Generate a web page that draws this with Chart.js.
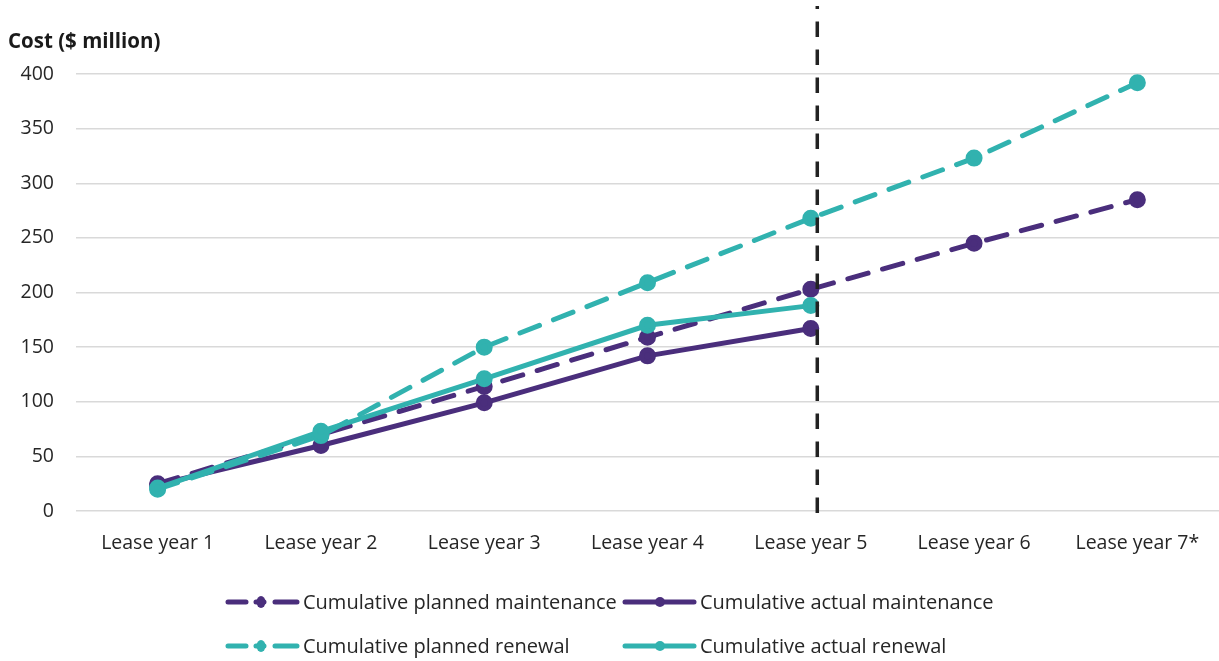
<!DOCTYPE html>
<html>
<head>
<meta charset="utf-8">
<script src="https://cdn.jsdelivr.net/npm/chart.js@4/dist/chart.umd.min.js"></script>
<style>
  html, body { margin: 0; padding: 0; background: #ffffff; }
  #wrap { position: relative; width: 1219px; height: 661px; }
</style>
</head>
<body>
<div id="wrap"><canvas id="chart" width="1219" height="661"></canvas></div>
<script>
// Categories and tick labels
const leaseYears = ['Lease year 1', 'Lease year 2', 'Lease year 3', 'Lease year 4', 'Lease year 5', 'Lease year 6', 'Lease year 7*'];
const yTicks = [0, 50, 100, 150, 200, 250, 300, 350, 400];

// Cumulative costs, $ million
const plannedMaintenance = [25, 70, 114, 159, 203, 245, 285];
const actualMaintenance  = [24, 60, 99, 142, 167, null, null];
const plannedRenewal     = [20, 69, 150, 209, 268, 323, 392];
const actualRenewal      = [21, 73, 121, 170, 188, null, null];

// Series names
const seriesNames = [
  'Cumulative planned maintenance',
  'Cumulative actual maintenance',
  'Cumulative planned renewal',
  'Cumulative actual renewal'
];

const yTitle = 'Cost ($ million)';
const currentYearIndex = 4; // divider placed just after lease year 5

const PURPLE = '#4a2e7c';
const TEAL = '#31b2af';
const FONT = "'Open Sans', 'Noto Sans', sans-serif";

function lineSet(label, data, color, dashed) {
  return {
    label, data,
    borderColor: color,
    backgroundColor: color,
    pointBackgroundColor: color,
    pointBorderColor: color,
    borderWidth: 5,
    borderDash: dashed ? [21, 15] : [],
    borderCapStyle: 'round',
    pointRadius: 6,
    pointHoverRadius: 6,
    tension: 0,
    spanGaps: false,
    fill: false
  };
}

// Title above the y axis, dashed vertical divider, and a two-row legend
const decorations = {
  id: 'decorations',
  afterDatasetsDraw(chart) {
    const ctx = chart.ctx;
    const x = chart.scales.x;

    // divider
    const xp = x.getPixelForValue(currentYearIndex) + 6.5;
    ctx.save();
    ctx.strokeStyle = '#222222';
    ctx.lineWidth = 3.5;
    ctx.setLineDash([15.5, 12.5]);
    ctx.beginPath();
    ctx.moveTo(xp, 513);
    ctx.lineTo(xp, 6);
    ctx.stroke();
    ctx.restore();
  },
  afterDraw(chart) {
    const ctx = chart.ctx;
    ctx.save();
    // axis title
    ctx.fillStyle = '#1a1a1a';
    ctx.font = "bold 20.5px " + FONT;
    ctx.textAlign = 'left';
    ctx.textBaseline = 'middle';
    ctx.fillText(yTitle, 8, 42);

    // legend
    const cols = [225, 622];
    const rows = [602, 646];
    chart.data.datasets.forEach((ds, i) => {
      const cx = cols[i % 2];
      const cy = rows[Math.floor(i / 2)];
      const w = 75;
      ctx.strokeStyle = ds.borderColor;
      ctx.fillStyle = ds.borderColor;
      ctx.lineWidth = 5;
      ctx.lineCap = 'round';
      if (ds.borderDash.length) {
        ctx.beginPath();
        ctx.moveTo(cx + 3, cy); ctx.lineTo(cx + 21, cy);
        ctx.moveTo(cx + 31, cy); ctx.lineTo(cx + 39, cy);
        ctx.moveTo(cx + 50, cy); ctx.lineTo(cx + 72, cy);
        ctx.stroke();
        ctx.beginPath();
        ctx.ellipse(cx + 36, cy, 4.5, 6, 0, 0, Math.PI * 2);
        ctx.fill();
      } else {
        ctx.beginPath();
        ctx.moveTo(cx + 3, cy); ctx.lineTo(cx + w - 3, cy);
        ctx.stroke();
        ctx.beginPath();
        ctx.arc(cx + 38, cy, 5, 0, Math.PI * 2);
        ctx.fill();
      }
      ctx.fillStyle = '#262626';
      ctx.font = "20px " + FONT;
      ctx.textAlign = 'left';
      ctx.textBaseline = 'middle';
      ctx.fillText(ds.label, cx + w + 3, cy + 1);
    });
    ctx.restore();
  }
};

new Chart(document.getElementById('chart'), {
  type: 'line',
  data: {
    labels: leaseYears,
    datasets: [
      lineSet(seriesNames[0], plannedMaintenance, PURPLE, true),
      lineSet(seriesNames[1], actualMaintenance, PURPLE, false),
      lineSet(seriesNames[2], plannedRenewal, TEAL, true),
      lineSet(seriesNames[3], actualRenewal, TEAL, false)
    ].map((d, i) => Object.assign(d, { order: [3, 2, 1, 0][i] }))
  },
  options: {
    responsive: false,
    animation: false,
    layout: { autoPadding: false, padding: { top: 74, right: 0, bottom: 100, left: 0 } },
    plugins: {
      legend: { display: false },
      tooltip: { enabled: false },
      title: { display: false }
    },
    scales: {
      x: {
        offset: true,
        grid: { display: false, drawTicks: false },
        border: { display: false },
        ticks: {
          color: '#262626',
          font: { family: FONT, size: 19.5 },
          padding: 21,
          maxRotation: 0
        },
        afterFit(scale) {
          scale.height = 50;
          scale.paddingLeft = 0;
          scale.paddingRight = 0;
        }
      },
      y: {
        min: 0,
        max: 400,
        afterBuildTicks(scale) { scale.ticks = yTicks.map(v => ({ value: v })); },
        grid: { color: '#d9d9d9', lineWidth: 1.5, drawTicks: false },
        border: { display: false },
        ticks: {
          color: '#262626',
          font: { family: FONT, size: 19.5 },
          padding: 22
        },
        afterFit(scale) { scale.width = 76; }
      }
    }
  },
  plugins: [decorations]
});
</script>
</body>
</html>
